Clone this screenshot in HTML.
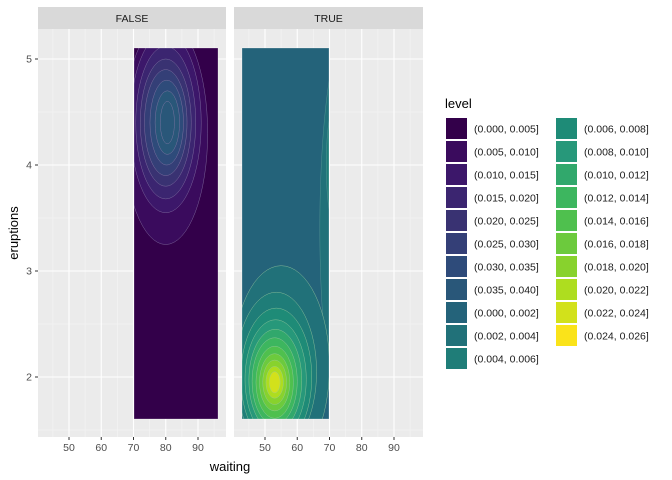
<!DOCTYPE html>
<html><head><meta charset="utf-8"><style>
body{margin:0;background:#fff}
svg{display:block;font-family:"Liberation Sans",sans-serif}
</style></head><body>
<svg id="chart" width="672" height="480" viewBox="0 0 672 480">
<defs>
<clipPath id="clipF"><rect x="134" y="48" width="84" height="371"/></clipPath>
<clipPath id="clipT"><rect x="242" y="48" width="87" height="371"/></clipPath>
</defs>
<g id="panels"></g>
<g id="legend"></g>
</svg>
<script>
const xTicks=[50,60,70,80,90];
const yTicks=[2,3,4,5];
const legendLabels=["(0.000, 0.005]","(0.005, 0.010]","(0.010, 0.015]","(0.015, 0.020]","(0.020, 0.025]","(0.025, 0.030]","(0.030, 0.035]","(0.035, 0.040]","(0.000, 0.002]","(0.002, 0.004]","(0.004, 0.006]","(0.006, 0.008]","(0.008, 0.010]","(0.010, 0.012]","(0.012, 0.014]","(0.014, 0.016]","(0.016, 0.018]","(0.018, 0.020]","(0.020, 0.022]","(0.022, 0.024]","(0.024, 0.026]"];
const legendColors=["#33004a","#3a0b5d","#3c176a","#3b2570","#393272","#343f77","#2e4b7a","#295779","#24637a","#217179","#1f7d78","#1e8b77","#27987a","#31a86c","#3db65f","#4fc04e","#6cca3d","#88d22d","#aedd1f","#d2e11b","#fae31a"];
const falseCenterX=[80,80,80,80,80,80.3,80.5,80.5];
const falseCenterY=[4.3,4.4,4.4,4.4,4.4,4.4,4.4,4.4];
const falseRx=[13,11,9.3,7.9,6.6,5.2,3.8,2.2];
const falseRy=[1.05,0.85,0.72,0.6,0.5,0.4,0.3,0.2];
const trueCenterX=[55,53.5,53.5,53.3,53.2,53,53,53,53,53,53];
const trueCenterY=[2.1,2.05,2.0,1.98,1.97,1.96,1.95,1.95,1.95,1.95,1.95];
const trueRx=[15,12.5,11,9.5,8.2,7,5.8,4.7,3.7,2.7,1.7];
const trueRy=[0.95,0.75,0.65,0.56,0.48,0.41,0.34,0.27,0.21,0.15,0.1];
const NS="http://www.w3.org/2000/svg";
function mk(tag,attrs,parent){const e=document.createElementNS(NS,tag);for(const k in attrs)e.setAttribute(k,attrs[k]);parent.appendChild(e);return e;}
const pTop=29,pBot=437;
function yS(v){return 59+(5-v)*106;}
const panels=[{x0:38,x1:226,x50:69,lab:"FALSE",clip:"clipF",rx0:134,rx1:218},{x0:234,x1:423,x50:265,lab:"TRUE",clip:"clipT",rx0:242,rx1:329}];
const root=document.getElementById('panels');
panels.forEach((p,pi)=>{
  const xS=v=>p.x50+(v-50)*3.225;
  const g=mk('g',{},root);
  
  
  mk('rect',{x:p.x0,y:pTop,width:p.x1-p.x0,height:pBot-pTop,fill:'#ebebeb'},g);
  [45,55,65,75,85,95].forEach(v=>{const X=xS(v);if(X>p.x0&&X<p.x1)mk('line',{x1:X,x2:X,y1:pTop,y2:pBot,stroke:'#f5f5f5','stroke-width':0.6},g);});
  [1.5,2.5,3.5,4.5].forEach(v=>mk('line',{x1:p.x0,x2:p.x1,y1:yS(v),y2:yS(v),stroke:'#f5f5f5','stroke-width':0.6},g));
  xTicks.forEach(v=>mk('line',{x1:xS(v),x2:xS(v),y1:pTop,y2:pBot,stroke:'#fff','stroke-width':1.1},g));
  yTicks.forEach(v=>mk('line',{x1:p.x0,x2:p.x1,y1:yS(v),y2:yS(v),stroke:'#fff','stroke-width':1.1},g));
  const s=mk('rect',{x:p.x0,y:7,width:p.x1-p.x0,height:22,fill:'#d9d9d9'},g);
  
  
  const st=mk('text',{x:(p.x0+p.x1)/2,y:22,'text-anchor':'middle','font-size':10.5,fill:'#1a1a1a'},g);st.textContent=p.lab;
  xTicks.forEach(v=>{const X=xS(v);mk('line',{x1:X,x2:X,y1:pBot,y2:pBot+3,stroke:'#333'},g);const t=mk('text',{x:X,y:451,'text-anchor':'middle','font-size':10.5,fill:'#4d4d4d'},g);t.textContent=v;});
  const dg=mk('g',{'clip-path':'url(#'+p.clip+')'},g);
  
  
  if(pi===0){
    mk('rect',{x:p.rx0,y:48,width:p.rx1-p.rx0,height:371,fill:legendColors[0]},dg);
    falseRx.forEach((r,i)=>{const e=mk('ellipse',{cx:xS(falseCenterX[i]),cy:yS(falseCenterY[i]),rx:r*3.225,ry:falseRy[i]*106,fill:legendColors[Math.min(i+1,7)],stroke:'#8a7aa8','stroke-width':0.4},dg);
      });
  } else {
    mk('rect',{x:p.rx0,y:48,width:p.rx1-p.rx0,height:371,fill:legendColors[8]},dg);
    const side=mk('ellipse',{cx:xS(76),cy:yS(3.4),rx:9*3.225,ry:1.9*106,fill:legendColors[9],stroke:'#5a9a98','stroke-width':0.4},dg);
    
    const side2=mk('ellipse',{cx:xS(71),cy:yS(4.0),rx:2*3.225,ry:0.5*106,fill:legendColors[10],stroke:'#5a9a98','stroke-width':0.4},dg);
    
    trueRx.forEach((r,i)=>{const e=mk('ellipse',{cx:xS(trueCenterX[i]),cy:yS(trueCenterY[i]),rx:r*3.225,ry:trueRy[i]*106,fill:legendColors[Math.min(9+i,20)],stroke:'#9ccaa0','stroke-width':0.4},dg);
      });
  }
  mk('rect',{x:p.rx0,y:48,width:p.rx1-p.rx0,height:371,fill:'none',stroke:'#ffffff','stroke-opacity':0.5,'stroke-width':0.5},g);
});
yTicks.forEach(v=>{mk('line',{x1:35,x2:38,y1:yS(v),y2:yS(v),stroke:'#333'},root);const t=mk('text',{x:32,y:yS(v)+3.5,'text-anchor':'end','font-size':10.5,fill:'#4d4d4d'},root);t.textContent=v;});
const xt=mk('text',{x:230,y:471,'text-anchor':'middle','font-size':13,fill:'#000'},root);xt.textContent='waiting';

const yt=mk('text',{x:0,y:0,'text-anchor':'middle','font-size':13,fill:'#000',transform:'translate(18,233) rotate(-90)'},root);yt.textContent='eruptions';

const lg=document.getElementById('legend');
const lt=mk('text',{x:445,y:108,'font-size':13,fill:'#000'},lg);lt.textContent='level';

legendLabels.forEach((l,i)=>{
  const col=i<11?0:1,row=i<11?i:i-11;
  const x=446+col*110,y=118+row*23;
  const e=mk('g',{},lg);
  
  
  mk('rect',{x:x,y:y,width:21,height:21,fill:legendColors[i]},e);
  const t=mk('text',{x:x+28,y:y+14.5,'font-size':10.5,fill:'#1a1a1a'},e);t.textContent=l;
});
</script>
</body></html>
